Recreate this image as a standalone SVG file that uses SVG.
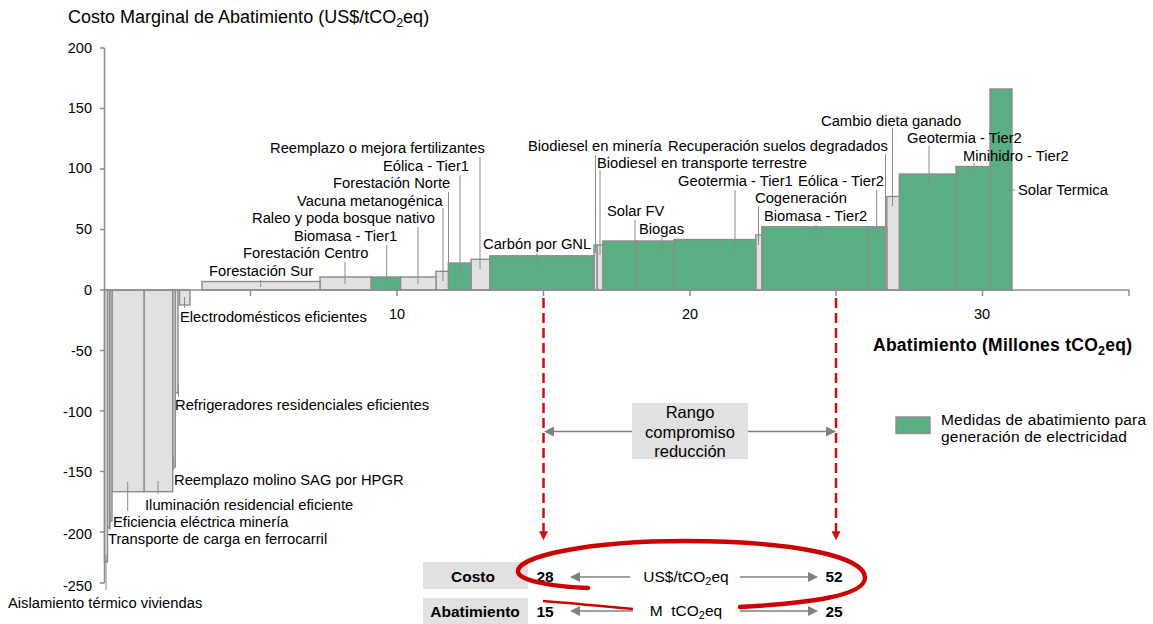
<svg xmlns="http://www.w3.org/2000/svg" width="1153" height="624" viewBox="0 0 1153 624">
<style>
.g{fill:#e1e1e1;stroke:#8c8c8c;stroke-width:1.4}
.e{fill:#59ae83;stroke:#8c8c8c;stroke-width:1.4}
.ld{stroke:#8c8c8c;stroke-width:1;fill:none}
.ax{stroke:#8c8c8c;stroke-width:1.5;fill:none}
text{font-family:"Liberation Sans",Arial,sans-serif;fill:#000}
.t{font-size:14.75px}
.yl{font-size:14.5px;text-anchor:end}
.xl{font-size:14.5px;text-anchor:middle}
.b{font-weight:bold;font-size:15.5px}
.c{text-anchor:middle}
.red{stroke:#cc0000;fill:none}
.garr{stroke:#808080;stroke-width:1.5;fill:none;marker-end:url(#ga)}
</style>
<defs>
<marker id="ga" viewBox="0 0 10 10" refX="1" refY="5" markerWidth="10" markerHeight="10" markerUnits="userSpaceOnUse" orient="auto"><path d="M0,0 L10,5 L0,10 z" fill="#808080"/></marker>
<marker id="ra" viewBox="0 0 10 10" refX="2" refY="5" markerWidth="10" markerHeight="9" markerUnits="userSpaceOnUse" orient="auto"><path d="M0,0 L10,5 L0,10 z" fill="#cc1111"/></marker>
</defs>
<rect width="1153" height="624" fill="#fff"/>

<!-- title -->
<text id="title" x="68" y="23" style="font-size:18px">Costo Marginal de Abatimiento (US$/tCO<tspan font-size="12.5" dy="4">2</tspan><tspan dy="-4">eq)</tspan></text>

<!-- bars (drawn right to left so labels stay above neighbouring bars) -->
<g id="bars">
<g id="n-solar-termica"><rect class="e" x="990" y="89" width="22" height="201"/><path class="ld" d="M1008,190 H1015"/><text class="t" x="1018" y="195">Solar Termica</text></g>
<g id="n-minihidro-t2"><rect class="e" x="956" y="166.5" width="34" height="123.5"/><path class="ld" d="M974,163 V176"/><text class="t" x="963" y="161">Minihidro - Tier2</text></g>
<g id="n-geotermia-t2"><rect class="e" x="899.3" y="174" width="56.7" height="116"/><path class="ld" d="M929,146 V184"/><text class="t" x="907" y="143">Geotermia - Tier2</text></g>
<g id="n-cambio-dieta"><rect class="g" x="886.8" y="196.5" width="12.5" height="93.5"/><path class="ld" d="M892.5,128 V206"/><text class="t" x="821" y="126">Cambio dieta ganado</text></g>
<g id="n-recuperacion"><rect class="g" x="885" y="226.8" width="1.8" height="63.2"/><path class="ld" d="M885.5,154 V227"/><text class="t" x="668" y="151">Recuperación suelos degradados</text></g>
<g id="n-eolica-t2"><rect class="e" x="868.3" y="226.8" width="16.7" height="63.2"/><path class="ld" d="M876.7,190 V236"/><text class="t" x="798" y="186">Eólica - Tier2</text></g>
<g id="n-biomasa-t2"><rect class="e" x="761.8" y="226.8" width="106.5" height="63.2"/><path class="ld" d="M816,225 V236"/><text class="t" x="764" y="221">Biomasa - Tier2</text></g>
<g id="n-cogeneracion"><rect class="g" x="755.8" y="235" width="6" height="55"/><path class="ld" d="M758.5,206 V245"/><text class="t" x="755" y="203">Cogeneración</text></g>
<g id="n-geotermia-t1"><rect class="e" x="674" y="239.5" width="81.8" height="50.5"/><path class="ld" d="M735,190 V250"/><text class="t" x="678" y="186">Geotermia - Tier1</text></g>
<g id="n-biogas"><rect class="e" x="636.8" y="241" width="37.2" height="49"/><path class="ld" d="M662,237 V251"/><text class="t" x="639" y="234">Biogas</text></g>
<g id="n-solar-fv"><rect class="e" x="602.8" y="241" width="34" height="49"/><path class="ld" d="M635,220 V251"/><text class="t" x="607" y="216">Solar FV</text></g>
<g id="n-biodiesel-transporte"><rect class="g" x="597" y="245" width="5.8" height="45"/><path class="ld" d="M600,170 V255"/><text class="t" x="597" y="168">Biodiesel en transporte terrestre</text></g>
<g id="n-biodiesel-mineria"><rect class="g" x="594" y="245" width="3" height="45"/><path class="ld" d="M595.5,155 V253"/><text class="t" x="528" y="151">Biodiesel en minería</text></g>
<g id="n-carbon"><rect class="e" x="489.7" y="255.8" width="104.3" height="34.2"/><path class="ld" d="M537,253 V266"/><text class="t" x="483" y="249">Carbón por GNL</text></g>
<g id="n-fertilizantes"><rect class="g" x="471" y="259.3" width="18.7" height="30.7"/><path class="ld" d="M480,157 V269"/><text class="t" x="270" y="153">Reemplazo o mejora fertilizantes</text></g>
<g id="n-eolica-t1"><rect class="e" x="448.3" y="263" width="22.7" height="27"/><path class="ld" d="M460,175 V274"/><text class="t" x="383" y="171">Eólica - Tier1</text></g>
<g id="n-forestacion-norte"><path class="ld" d="M448.5,192 V272"/><text class="t" x="333" y="188">Forestación Norte</text></g>
<g id="n-vacuna"><rect class="g" x="436" y="271.3" width="12.3" height="18.7"/><path class="ld" d="M443,208 V281"/><text class="t" x="297" y="206">Vacuna metanogénica</text></g>
<g id="n-raleo"><rect class="g" x="400.5" y="277" width="35.5" height="13"/><path class="ld" d="M418,227 V284"/><text class="t" x="252" y="223">Raleo y poda bosque nativo</text></g>
<g id="n-biomasa-t1"><rect class="e" x="371" y="277" width="29.5" height="13"/><path class="ld" d="M386.7,245 V284"/><text class="t" x="294" y="241">Biomasa - Tier1</text></g>
<g id="n-forestacion-centro"><rect class="g" x="320" y="277" width="51" height="13"/><path class="ld" d="M345,262 V284"/><text class="t" x="243" y="258">Forestación Centro</text></g>
<g id="n-forestacion-sur"><rect class="g" x="202" y="281.5" width="118" height="8.5"/><path class="ld" d="M260.7,280 V287"/><text class="t" x="209" y="276">Forestación Sur</text></g>

<g id="n-electrodomesticos"><rect class="g" x="179.5" y="290" width="10.5" height="15"/><path class="ld" d="M184.5,297 V308"/><text class="t" x="180" y="322">Electrodomésticos eficientes</text></g>
<g id="n-refrigeradores"><rect class="g" x="175.3" y="290" width="2.7" height="103"/><path class="ld" d="M178.5,383 V397"/><text class="t" x="175" y="410">Refrigeradores residenciales eficientes</text></g>
<g id="n-molino"><rect class="g" x="172.7" y="290" width="2.6" height="177"/><path class="ld" d="M173.7,457 V470"/><text class="t" x="174" y="485">Reemplazo molino SAG por HPGR</text></g>
<g id="n-iluminacion"><rect class="g" x="144" y="290" width="28.7" height="201.7"/><path class="ld" d="M158,481 V494"/><text class="t" x="145" y="510">Iluminación residencial eficiente</text></g>
<g id="n-eficiencia"><rect class="g" x="112" y="290" width="32" height="201.7"/><path class="ld" d="M127.7,482 V511"/><text class="t" x="113" y="527">Eficiencia eléctrica minería</text></g>
<g id="n-transporte"><rect class="g" x="109.7" y="290" width="2.3" height="231"/><rect class="g" x="107.5" y="290" width="2.2" height="238"/><path class="ld" d="M110,513 V530"/><text class="t" x="108" y="544">Transporte de carga en ferrocarril</text></g>
<g id="n-aislamiento"><rect class="g" x="104.5" y="290" width="3" height="272"/><path class="ld" d="M106,555 V590"/><text class="t" x="8" y="608">Aislamiento térmico viviendas</text></g>
</g>

<!-- axes -->
<g id="axes">
<path class="ax" d="M104.5,48 V583 M100,48 H104.5 M100,108.5 H104.5 M100,169 H104.5 M100,229.5 H104.5 M100,290 H104.5 M100,350.5 H104.5 M100,411 H104.5 M100,471.5 H104.5 M100,532 H104.5 M100,583 H104.5"/>
<path class="ax" d="M104.5,290 H1129 M250.5,290 V296 M397,290 V296 M543.5,290 V296 M690,290 V296 M836,290 V296 M982.5,290 V296 M1129,290 V296"/>
<text class="yl" x="92" y="53">200</text>
<text class="yl" x="92" y="113">150</text>
<text class="yl" x="92" y="173">100</text>
<text class="yl" x="92" y="234">50</text>
<text class="yl" x="92" y="295">0</text>
<text class="yl" x="92" y="356">-50</text>
<text class="yl" x="92" y="417">-100</text>
<text class="yl" x="92" y="477">-150</text>
<text class="yl" x="92" y="539">-200</text>
<text class="yl" x="92" y="591">-250</text>
<text class="xl" x="397" y="319">10</text>
<text class="xl" x="690" y="319">20</text>
<text class="xl" x="982" y="319">30</text>
<text x="873" y="351" style="font-size:17.5px;font-weight:bold;letter-spacing:0.25px">Abatimiento (Millones tCO<tspan font-size="12.5" dy="4">2</tspan><tspan dy="-4">eq)</tspan></text>
</g>

<!-- legend -->
<g id="legend">
<rect class="e" x="896" y="417" width="34" height="16.5"/>
<text x="941" y="425" style="font-size:15.5px;letter-spacing:0.2px">Medidas de abatimiento para</text>
<text x="941" y="442" style="font-size:15.5px;letter-spacing:0.2px">generación de electricidad</text>
</g>

<!-- connectors -->
<g id="connectors">
<path d="M543.5,298 V533" stroke="#cc1111" stroke-width="2.5" stroke-dasharray="10 5" fill="none" marker-end="url(#ra)"/>
<path d="M836,298 V533" stroke="#cc1111" stroke-width="2.5" stroke-dasharray="10 5" fill="none" marker-end="url(#ra)"/>
<path class="garr" d="M632,431.5 H553"/>
<path class="garr" d="M748,431.5 H827"/>
<path class="garr" d="M630,577 H579"/>
<path class="garr" d="M740,577 H809"/>
<path class="garr" d="M633,611 H579"/>
<path class="garr" d="M740,611 H809"/>
</g>

<g id="rango">
<rect x="632" y="403" width="116" height="56" fill="#e1e1e1"/>
<text class="c" x="690" y="418" style="font-size:16.5px">Rango</text>
<text class="c" x="690" y="438" style="font-size:16.5px">compromiso</text>
<text class="c" x="690" y="457" style="font-size:16.5px">reducción</text>
</g>

<g id="tabla">
<rect x="423" y="562" width="105" height="27" fill="#e1e1e1"/>
<rect x="423" y="598" width="105" height="26" fill="#e1e1e1"/>
<text class="b c" x="473" y="582">Costo</text>
<text class="b c" x="475" y="617">Abatimiento</text>
<text class="b c" x="545" y="582">28</text>
<text class="b c" x="834" y="582">52</text>
<text class="b c" x="545" y="617">15</text>
<text class="b c" x="834" y="617">25</text>
<text class="c" x="686" y="582" style="font-size:15.5px">US$/tCO<tspan font-size="11" dy="3">2</tspan><tspan dy="-3">eq</tspan></text>
<text class="c" x="686" y="616" style="font-size:15.5px">M&#160; tCO<tspan font-size="11" dy="3">2</tspan><tspan dy="-3">eq</tspan></text>
</g>

<g id="elipse">
<path class="red" stroke-width="4.4" stroke-linecap="round" d="M588,588 C560,587 520,582 518,572 C516,556 590,541 685,541 C790,541 866,556 865,578 C864,596 810,603 740,607"/>
<path class="red" stroke-width="2.6" d="M633,609 C600,606 570,603 543,601"/>
</g>
</svg>
